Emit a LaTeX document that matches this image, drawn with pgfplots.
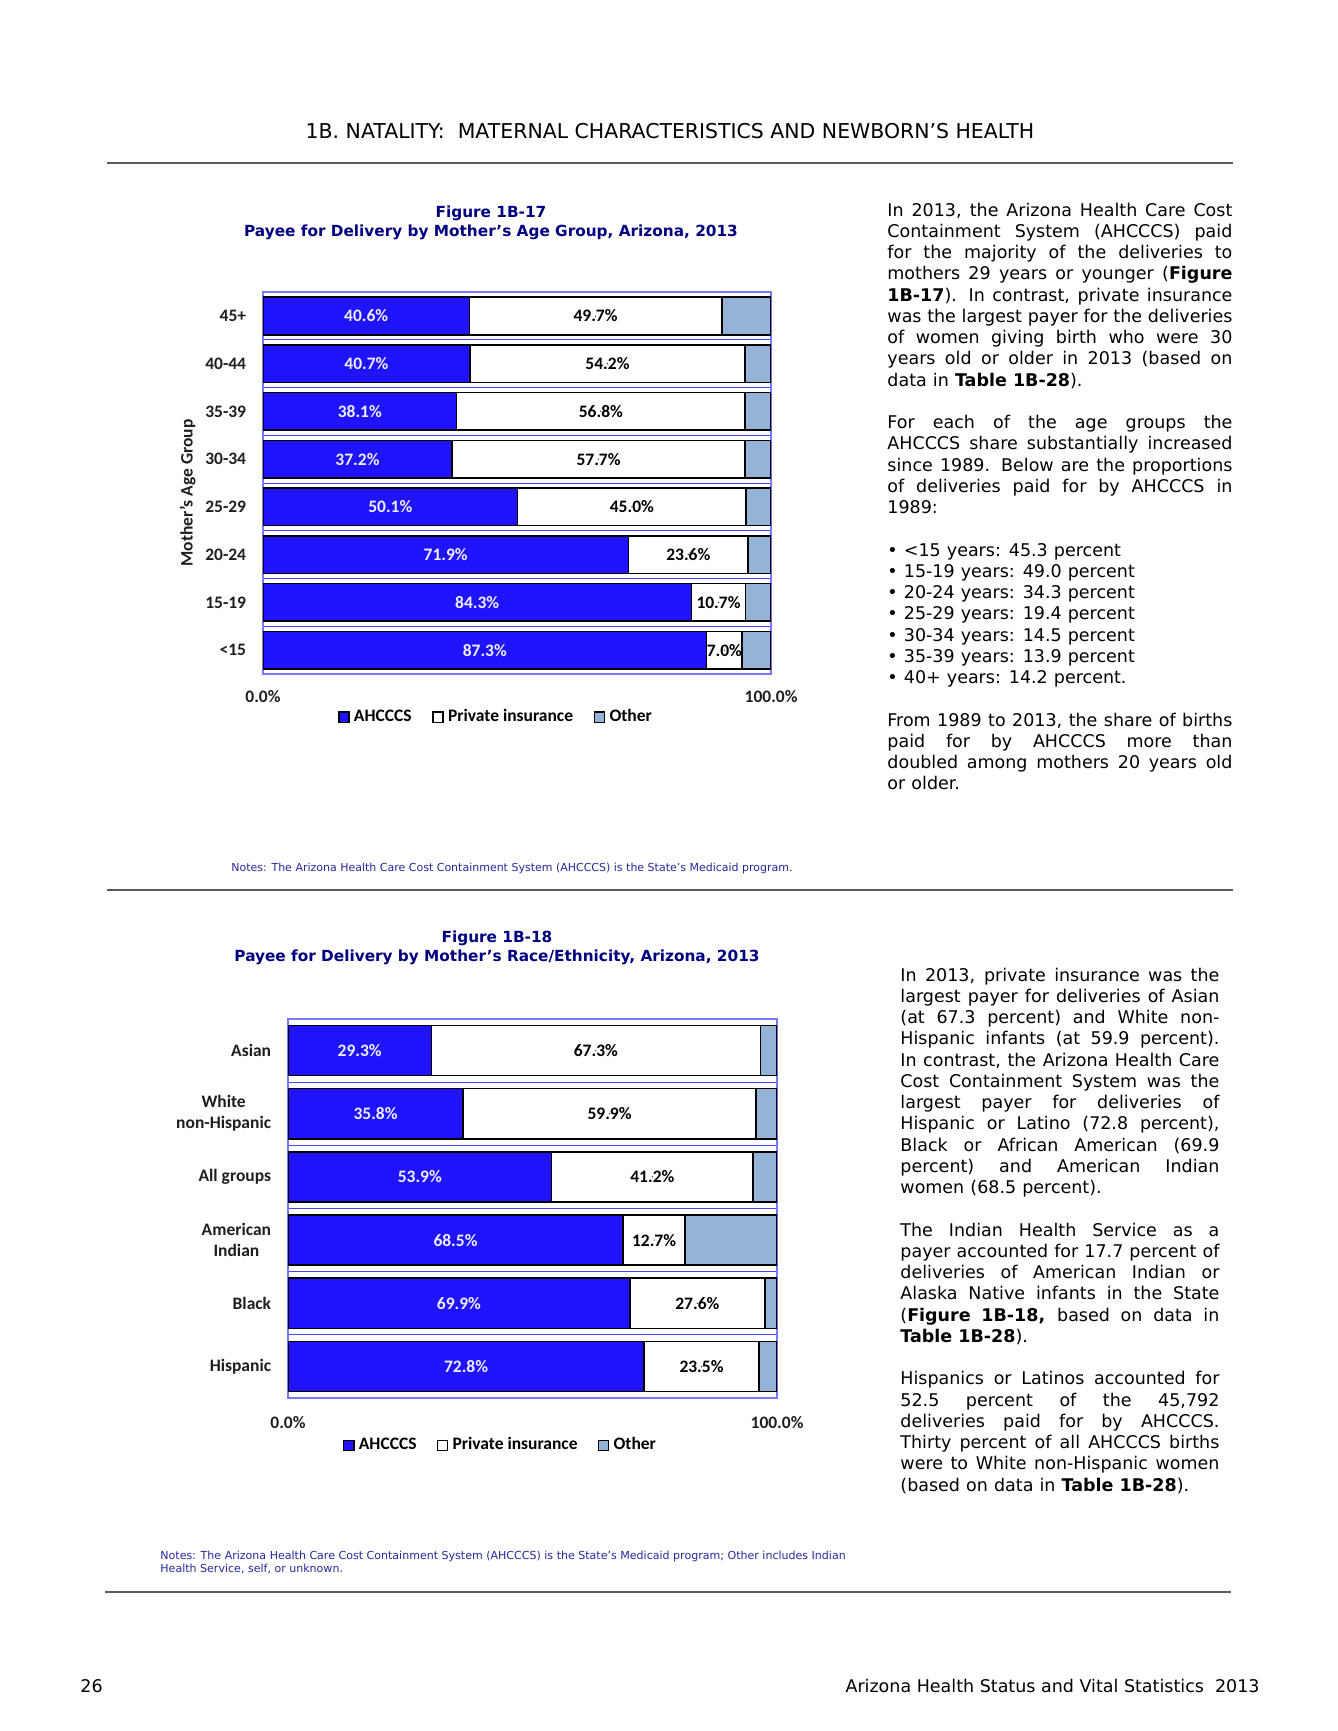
\documentclass[border=0pt]{standalone}
\usepackage{pgfplots}
\pgfplotsset{compat=1.18}
\usepackage{pgfplotstable}
\usepackage{fontspec}
\setmainfont{DejaVu Sans}
\newfontfamily\carl{Carlito}
\definecolor{ahblue}{RGB}{32,20,255}
\definecolor{othblue}{RGB}{149,179,215}
\definecolor{frameblue}{RGB}{120,120,255}
\definecolor{gridblue}{RGB}{70,70,255}
\definecolor{navy}{RGB}{0,0,128}
\definecolor{notes}{RGB}{40,40,160}
\definecolor{lblwhite}{RGB}{238,238,255}
\definecolor{rulegray}{RGB}{90,90,90}
\definecolor{labelgray}{RGB}{30,30,30}
\newcommand\chartfont{\carl\bfseries\fontsize{8pt}{9.6pt}\selectfont}
\newcommand\bodyfont{\fontsize{8pt}{9.72pt}\selectfont}
\newlength\tw
\newcommand\jl[1]{\hbox to \tw{\spaceskip=0.35em plus 1fil minus 0.12em\relax #1}}
\newcommand\lj[1]{\hbox to \tw{\spaceskip=0.35em minus 0.12em\relax #1\hfill}}

\pgfplotstableread{
y a p o
0 87.3 7.0 5.7
1 84.3 10.7 5.0
2 71.9 23.6 4.5
3 50.1 45.0 4.9
4 37.2 57.7 5.1
5 38.1 56.8 5.1
6 40.7 54.2 5.1
7 40.6 49.7 9.7
}\agedata

\pgfplotstableread{
y a p o
0 72.8 23.5 3.7
1 69.9 27.6 2.5
2 68.5 12.7 18.8
3 53.9 41.2 4.9
4 35.8 59.9 4.3
5 29.3 67.3 3.4
}\racedata

\pgfplotsset{
  barax/.style={
    scale only axis,
    xbar stacked,
    xmin=0, xmax=100,
    xtick={0,100}, xticklabels={0.0\%,100.0\%},
    major tick length=0pt, minor tick length=0pt,
    yminorgrids, minor grid style={gridblue, line width=0.5pt},
    axis line style={frameblue, line width=0.6pt},
    tick label style={font=\chartfont, text=labelgray},
    legend image code/.code={\draw[##1, draw=black, line width=0.6pt] (0pt,-2.3pt) rectangle (4.6pt,2.3pt);},
    legend columns=3,
    /pgf/number format/assume math mode=true,
  },
  lblax/.style={
    scale only axis, hide axis, clip=false,
    xmin=0, xmax=100,
    /pgf/number format/assume math mode=true,
    nodes near coords={\pgfmathprintnumber[fixed,fixed zerofill,precision=1]{\pgfplotspointmeta}\%},
    every node near coord/.append style={anchor=center, font=\chartfont},
    point meta=explicit,
  },
  lbl/.style={only marks, mark=*, mark size=0.01pt, mark options={draw=none,fill=none}, every node near coord/.append style={text=#1}},
}

\begin{document}
\begin{tikzpicture}
\begin{scope}[x=0.4574pt, y=-0.4574pt]
\fill[white] (0,0) rectangle (1338,1731);
\coordinate (A1) at (263,674);
\coordinate (A2) at (288,1398);
% header
\node[anchor=base, inner sep=0pt] at (670,138) {\fontsize{9.35pt}{11pt}\selectfont 1B. NATALITY:\ \ MATERNAL CHARACTERISTICS AND NEWBORN’S HEALTH};
\draw[line width=1.1pt, rulegray] (107,163) -- (1233,163);
% figure 1 title
\node[anchor=base, inner sep=0pt, text=navy] at (491,217) {\fontsize{7pt}{8.5pt}\selectfont\bfseries Figure 1B-17};
\node[anchor=base, inner sep=0pt, text=navy] at (491,236) {\fontsize{7pt}{8.5pt}\selectfont\bfseries Payee for Delivery by Mother’s Age Group, Arizona, 2013};
% text 1
\node[anchor=base west, inner sep=0pt] at (887,216) {\bodyfont\setlength\tw{157.8pt}\vtop{\baselineskip=9.72pt
\jl{In 2013, the Arizona Health Care Cost}
\jl{Containment System (AHCCCS) paid}
\jl{for the majority of the deliveries to}
\jl{mothers 29 years or younger (\textbf{Figure}}
\jl{\textbf{1B-17}). In contrast, private insurance}
\jl{was the largest payer for the deliveries}
\jl{of women giving birth who were 30}
\jl{years old or older in 2013 (based on}
\lj{data in \textbf{Table 1B-28}).}
\lj{}
\jl{For each of the age groups the}
\jl{AHCCCS share substantially increased}
\jl{since 1989. Below are the proportions}
\jl{of deliveries paid for by AHCCCS in}
\lj{1989:}
\lj{}
\lj{• <15 years: 45.3 percent}
\lj{• 15-19 years: 49.0 percent}
\lj{• 20-24 years: 34.3 percent}
\lj{• 25-29 years: 19.4 percent}
\lj{• 30-34 years: 14.5 percent}
\lj{• 35-39 years: 13.9 percent}
\lj{• 40+ years: 14.2 percent.}
\lj{}
\jl{From 1989 to 2013, the share of births}
\jl{paid for by AHCCCS more than}
\jl{doubled among mothers 20 years old}
\lj{or older.}
}};
% notes 1
\node[anchor=base west, inner sep=0pt, text=notes] at (231,871) {\fontsize{5.03pt}{6pt}\selectfont Notes: The Arizona Health Care Cost Containment System (AHCCCS) is the State’s Medicaid program.};
\draw[line width=1.1pt, rulegray] (107,890) -- (1233,890);
% figure 2 title
\node[anchor=base, inner sep=0pt, text=navy] at (497,942) {\fontsize{7pt}{8.5pt}\selectfont\bfseries Figure 1B-18};
\node[anchor=base, inner sep=0pt, text=navy] at (497,961) {\fontsize{7pt}{8.5pt}\selectfont\bfseries Payee for Delivery by Mother’s Race/Ethnicity, Arizona, 2013};
% text 2
\node[anchor=base west, inner sep=0pt] at (900,981) {\bodyfont\setlength\tw{145.9pt}\vtop{\baselineskip=9.72pt
\jl{In 2013, private insurance was the}
\jl{largest payer for deliveries of Asian}
\jl{(at 67.3 percent) and White non-}
\jl{Hispanic infants (at 59.9 percent).}
\jl{In contrast, the Arizona Health Care}
\jl{Cost Containment System was the}
\jl{largest payer for deliveries of}
\jl{Hispanic or Latino (72.8 percent),}
\jl{Black or African American (69.9}
\jl{percent) and American Indian}
\lj{women (68.5 percent).}
\lj{}
\jl{The Indian Health Service as a}
\jl{payer accounted for 17.7 percent of}
\jl{deliveries of American Indian or}
\jl{Alaska Native infants in the State}
\jl{(\textbf{Figure 1B-18,} based on data in}
\lj{\textbf{Table 1B-28}).}
\lj{}
\jl{Hispanics or Latinos accounted for}
\jl{52.5 percent of the 45,792}
\jl{deliveries paid for by AHCCCS.}
\jl{Thirty percent of all AHCCCS births}
\jl{were to White non-Hispanic women}
\lj{(based on data in \textbf{Table 1B-28}).}
}};
% notes 2
\node[anchor=base west, inner sep=0pt, text=notes] at (160,1559) {\fontsize{5.05pt}{6pt}\selectfont Notes: The Arizona Health Care Cost Containment System (AHCCCS) is the State’s Medicaid program; Other includes Indian};
\node[anchor=base west, inner sep=0pt, text=notes] at (160,1572) {\fontsize{5.05pt}{6pt}\selectfont Health Service, self, or unknown.};
\draw[line width=1.1pt, rulegray] (105,1592) -- (1231,1592);
% footer
\node[anchor=base west, inner sep=0pt] at (80,1692) {\fontsize{8pt}{9.7pt}\selectfont 26};
\node[anchor=base east, inner sep=0pt] at (1260,1692) {\fontsize{8pt}{9.7pt}\selectfont Arizona Health Status and Vital Statistics\ \ 2013};
\end{scope}

% ---------- chart 1 ----------
\begin{axis}[barax,
  at={(A1)}, anchor=south west,
  width=232.4pt, height=174.7pt,
  bar width=17.2pt,
  ymin=-0.5, ymax=7.5,
  ytick={0,...,7},
  yticklabels={<15,15-19,20-24,25-29,30-34,35-39,40-44,45+},
  minor ytick={-0.5,0.5,...,7.5},
  x tick label style={yshift=-3.9pt},
  y tick label style={xshift=-4.2pt},
  ylabel={Mother’s Age Group},
  ylabel style={font=\chartfont, text=labelgray, at={(axis description cs:-0.148,0.474)}, anchor=center},
  legend style={at={(0.461,-0.113)}, anchor=center, draw=none, fill=none, font=\chartfont, /tikz/every even column/.append style={column sep=7.5pt}},
]
\addplot[fill=ahblue, draw=black, line width=0.7pt] table[x=a, y=y]{\agedata};
\addplot[fill=white, draw=black, line width=0.7pt] table[x=p, y=y]{\agedata};
\addplot[fill=othblue, draw=black, line width=0.7pt] table[x=o, y=y]{\agedata};
\legend{AHCCCS, Private insurance, Other}
\end{axis}
\begin{axis}[lblax, at={(A1)}, anchor=south west, width=232.4pt, height=174.7pt, ymin=-0.5, ymax=7.5]
\addplot[lbl=lblwhite] table[x expr=\thisrow{a}/2, y=y, meta=a]{\agedata};
\addplot[lbl=black] table[x expr=\thisrow{a}+\thisrow{p}/2, y=y, meta=p]{\agedata};
\end{axis}

% ---------- chart 2 ----------
\begin{axis}[barax,
  at={(A2)}, anchor=south west,
  width=223.7pt, height=173.4pt,
  bar width=22.9pt,
  ymin=-0.5, ymax=5.5,
  ytick={0,...,5},
  yticklabels={Hispanic,Black,{American\\Indian},All groups,{White\\non-Hispanic},Asian},
  y tick label style={xshift=-4.2pt, align=center},
  minor ytick={-0.5,0.5,...,5.5},
  x tick label style={yshift=-4.8pt},
  legend style={at={(0.437,-0.125)}, anchor=center, draw=none, fill=none, font=\chartfont, /tikz/every even column/.append style={column sep=7.3pt}},
]
\addplot[fill=ahblue, draw=black, line width=0.7pt] table[x=a, y=y]{\racedata};
\addplot[fill=white, draw=black, line width=0.7pt] table[x=p, y=y]{\racedata};
\addplot[fill=othblue, draw=black, line width=0.7pt] table[x=o, y=y]{\racedata};
\legend{AHCCCS, Private insurance, Other}
\end{axis}
\begin{axis}[lblax, at={(A2)}, anchor=south west, width=223.7pt, height=173.4pt, ymin=-0.5, ymax=5.5]
\addplot[lbl=lblwhite] table[x expr=\thisrow{a}/2, y=y, meta=a]{\racedata};
\addplot[lbl=black] table[x expr=\thisrow{a}+\thisrow{p}/2, y=y, meta=p]{\racedata};
\end{axis}
\end{tikzpicture}
\end{document}
